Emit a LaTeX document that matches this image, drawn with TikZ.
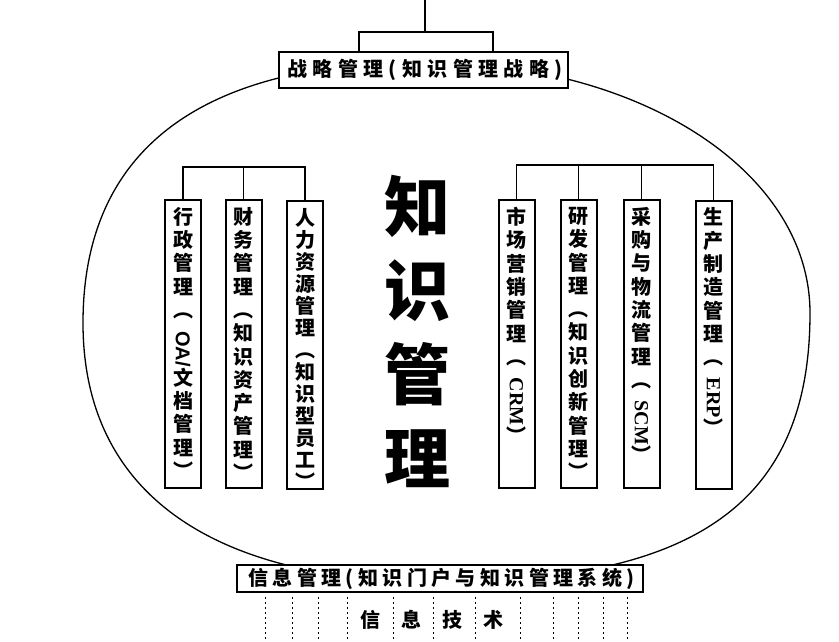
\documentclass[tikz,border=0pt]{standalone}
\usepackage{fontspec}
\usepackage{graphicx}
\newfontfamily\cjk{Noto Sans CJK SC}
\newfontfamily\cjktop[LetterSpace=27]{Noto Sans CJK SC}
\newfontfamily\cjkbot[LetterSpace=22]{Noto Sans CJK SC}
\newfontfamily\lser{Liberation Serif}
\newfontfamily\lsan{Liberation Sans}
\newcommand\rlat[2][\lser]{\raisebox{15pt}{\rotatebox{-90}{#1 #2}}}
\begin{document}
\begin{tikzpicture}[x=1pt,y=-1pt,
  hbox/.style={draw,line width=2pt,fill=white,inner sep=0pt},
  vbox/.style={draw,line width=2pt,fill=white,minimum width=36pt,minimum height=288pt,inner sep=0pt},
  vtext/.style={anchor=north,inner sep=0pt,align=center,font=\cjk\bfseries\fontsize{20}{23.3}\selectfont},
  link/.style={line width=1.6pt},
  rim/.style={line width=1.3pt},
  tech/.style={line width=0.9pt,dash pattern=on 1.5pt off 3.5pt}]
\useasboundingbox (0,0) rectangle (839,642);

% outer rounded rim
\draw[rim] (425,62) .. controls (641,62) and (810,172) .. (810,313)
  .. controls (810,500) and (699,582) .. (440,582)
  .. controls (208,582) and (83,490) .. (83,323)
  .. controls (83,151) and (199,62) .. (425,62) -- cycle;

% top box and connectors
\node[hbox,minimum width=289pt,minimum height=36pt,font=\cjktop\bfseries\fontsize{20}{24}\selectfont] (strat) at (423.5,70) {\hspace{3pt}战略管理(知识管理战略)};
\coordinate (topend) at (425,0);
\coordinate (topmid) at (425,32);
\coordinate (brl) at (359,32);
\coordinate (brr) at (493,32);
\draw[link] (topend) -- (topmid);
\draw[link] (brl |- strat.north) -- (brl) -- (brr) -- (brr |- strat.north);

% bottom box
\node[hbox,minimum width=406pt,minimum height=27pt,font=\cjkbot\bfseries\fontsize{20}{24}\selectfont] (info) at (440,578.5) {\hspace{3pt}信息管理(知识门户与知识管理系统)};

% information technology layer
\foreach \x in {265,292,318,347,393,433,475,520,553,578,603,627}
  \draw[tech] (\x,597) -- (\x,642);
\node[font=\cjk\bfseries\fontsize{20}{24}\selectfont,inner sep=0pt] (it) at (431.5,620) {信\hspace{21pt}息\hspace{21pt}技\hspace{21pt}术};

% big title
\node[anchor=north,inner sep=0pt,align=center,font=\cjk\bfseries\fontsize{66}{84}\selectfont] (km) at (417,175) {知\\识\\管\\理};

% left group
\node[vbox] (b1) at (183,344) {};
\node[vbox] (b2) at (243.5,344) {};
\node[vbox] (b3) at (305,345) {};
\node[vtext] (t1) at ([yshift=-8pt]b1.north) {行\\政\\管\\理\\︵\\\rlat[\lsan]{OA/}\\文\\档\\管\\理\\︶};
\node[vtext] (t2) at ([yshift=-8pt]b2.north) {财\\务\\管\\理\\︵\\知\\识\\资\\产\\管\\理\\︶};
\node[vtext,font=\cjk\bfseries\fontsize{20}{22}\selectfont] (t3) at ([yshift=-8pt]b3.north) {人\\力\\资\\源\\管\\理\\︵\\知\\识\\型\\员\\工\\︶};
\coordinate (lbus) at (183,167);
\draw[link] (b1.north) -- (b1.north |- lbus) -| (b3.north);
\draw[link] (b2.north) -- (b2.north |- lbus);

% right group
\node[vbox] (b4) at (516.5,344) {};
\node[vbox] (b5) at (578.5,344) {};
\node[vbox] (b6) at (641.5,344) {};
\node[vbox] (b7) at (713.5,344.5) {};
\node[vtext] (t4) at ([yshift=-8pt]b4.north) {市\\场\\营\\销\\管\\理\\︵\\\rlat{CRM}\\︶};
\node[vtext] (t5) at ([yshift=-8pt]b5.north) {研\\发\\管\\理\\︵\\知\\识\\创\\新\\管\\理\\︶};
\node[vtext] (t6) at ([yshift=-8pt]b6.north) {采\\购\\与\\物\\流\\管\\理\\︵\\\rlat{SCM}\\︶};
\node[vtext] (t7) at ([yshift=-8pt]b7.north) {生\\产\\制\\造\\管\\理\\︵\\\rlat{ERP}\\︶};
\coordinate (rbus) at (516,165);
\draw[link] (b4.north) -- (b4.north |- rbus) -| (b7.north);
\draw[link] (b5.north) -- (b5.north |- rbus);
\draw[link] (b6.north) -- (b6.north |- rbus);
\end{tikzpicture}
\end{document}
